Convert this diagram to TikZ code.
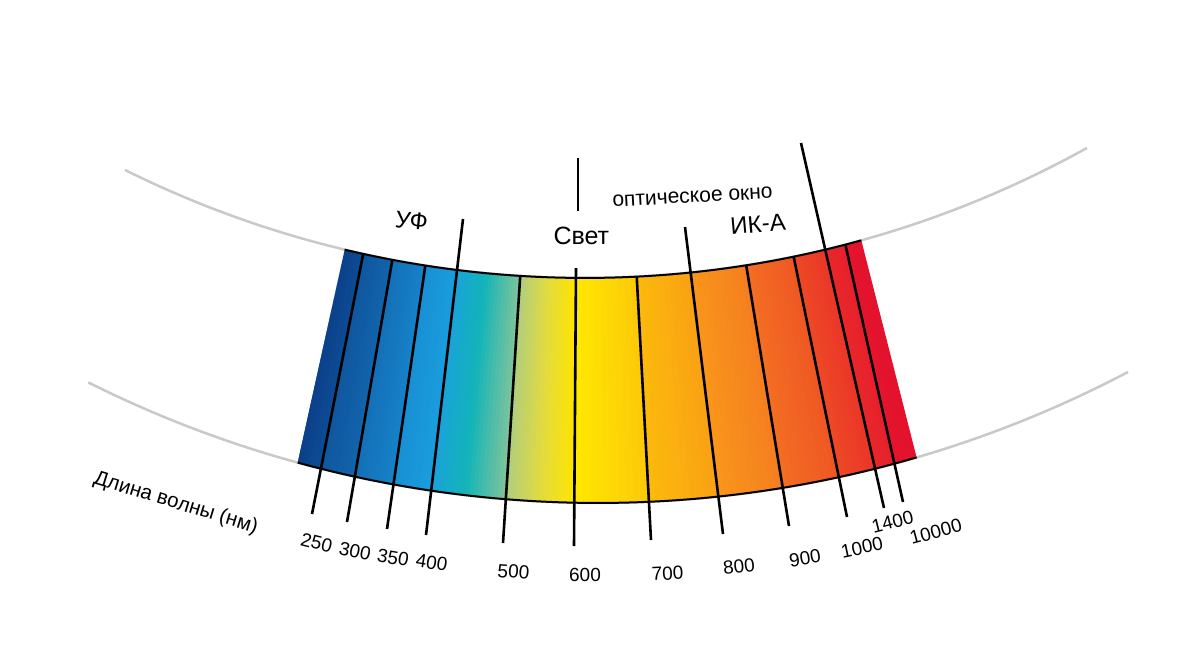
\documentclass[tikz,border=0pt]{standalone}
\usepackage{fontspec}
\setmainfont{Liberation Sans}
\usetikzlibrary{calc}
\definecolor{guidegray}{HTML}{C9C9C9}
\begin{document}
\begin{tikzpicture}[x=1pt,y=-1pt,
  tick/.style={line width=2.6pt, black},
  rim/.style={line width=2pt, black},
  guide/.style={line width=2.5pt, color=guidegray},
  num/.style={font=\fontsize{19}{22}\selectfont, inner sep=0pt},
  lbl/.style={font=\fontsize{24}{28}\selectfont, inner sep=0pt}]
\fill[white] (0,0) rectangle (1200,662);
\useasboundingbox (0,0) rectangle (1200,662);
% centres of the two rims
\coordinate (T) at (585,-756);
\coordinate (B) at (598,-635);
\coordinate (TL) at ($(T)+(103.44:1034)$);
\coordinate (TR) at ($(T)+(74.50:1034)$);
\coordinate (BL) at ($(B)+(105.30:1138)$);
\coordinate (BR) at ($(B)+(73.74:1138)$);
\coordinate (GT1) at ($(T)+(116.42:1034)$);
\coordinate (GB1) at ($(B)+(116.61:1138)$);
% grey guide arcs
\draw[guide] (GT1) arc[start angle=116.42, end angle=60.96, radius=1034];
\draw[guide] (GB1) arc[start angle=116.61, end angle=62.24, radius=1138];
% spectrum band
\begin{scope}
\clip (TL) arc[start angle=103.44,end angle=74.50,radius=1034] -- (BR)
      arc[start angle=73.74,end angle=105.30,radius=1138] -- cycle;
\foreach \sxa/\sba/\sxb/\sbb/\sca/\scb in {
  343.0/279.0/367.9/310.8/0A3D86/0D4C95,
  367.9/310.8/397.5/347.3/0F569E/1264AC,
  397.5/347.3/430.5/388.3/146FB8/1682C8,
  430.5/388.3/461.7/427.8/1890D4/1A9DDC,
  461.7/427.8/489.4/462.3/1AA2DA/12B4B8,
  489.4/462.3/523.2/504.5/12B4B8/80C49A,
  523.2/504.5/549.75/539.35/AFCD7E/E2DB40,
  549.75/539.35/576.3/574.2/E2DB40/FFE400,
  576.3/574.2/634.2/649.9/FFE800/FDC90A,
  634.2/649.9/685.4/721.3/FCBA0C/F9A114,
  685.4/721.3/740.4/788.0/F8961A/F57E20,
  740.4/788.0/788.2/847.6/F36E22/EF5724,
  788.2/847.6/820.8/886.1/ED4A25/EA3628,
  820.8/886.1/842.1/907.5/E8282A/E6202B,
  842.1/907.5/864.0/940.0/E4152D/E3102D}{
  \edef\tmpdef{\noexpand\definecolor{segA}{HTML}{\sca}\noexpand\definecolor{segB}{HTML}{\scb}}\tmpdef
  \foreach \k in {0,...,9}{
    \pgfmathsetmacro\pta{\sxa+(\sxb-\sxa)*\k/10}
    \pgfmathsetmacro\ptb{\sxa+(\sxb-\sxa)*(\k+1.3)/10}
    \pgfmathsetmacro\pba{\sba+(\sbb-\sba)*\k/10}
    \pgfmathsetmacro\pbb{\sba+(\sbb-\sba)*(\k+1.3)/10}
    \pgfmathtruncatemacro\pc{100-100*(\k+0.5)/10}
    \fill[segA!\pc!segB] (\pta,230) -- (\ptb,230) -- (\pbb,520) -- (\pba,520) -- cycle;
  }
}
\end{scope}
% tick lines that stop at the upper rim
\begin{scope}
\clip ($(T)+(130:1034)$) arc[start angle=130,end angle=50,radius=1034] -- (1250,700) -- (-100,700) -- cycle;
\coordinate (a250) at (367.9,230);   \coordinate (b250) at (312,514);
\coordinate (a300) at (397.5,230);   \coordinate (b300) at (347,522);
\coordinate (a350) at (430.5,230);   \coordinate (b350) at (387,529);
\coordinate (a500) at (523.2,230);   \coordinate (b500) at (503,543);
\coordinate (a700) at (634.2,230);   \coordinate (b700) at (651,540);
\coordinate (a900) at (740.4,230);   \coordinate (b900) at (789,526);
\coordinate (a1000) at (788.2,230);  \coordinate (b1000) at (847,517);
\coordinate (a10000) at (842.1,230); \coordinate (b10000) at (903,502);
\foreach \n in {250,300,350,500,700,900,1000,10000}{
  \draw[tick] (a\n) -- (b\n);
}
\end{scope}
% tick lines that rise above the band
\coordinate (a400) at (463,219);   \coordinate (b400) at (426,535);
\coordinate (a600) at (576,268);   \coordinate (b600) at (574,546);
\coordinate (a800) at (685,227);   \coordinate (b800) at (723,534);
\coordinate (a1400) at (801,143);  \coordinate (b1400) at (884,508);
\coordinate (s600a) at (578,158);  \coordinate (s600b) at (578,211);
\foreach \n in {400,600,800,1400}{
  \draw[tick] (a\n) -- (b\n);
}
\draw[tick] (s600a) -- (s600b);
% rims
\draw[rim] (TL) arc[start angle=103.44,end angle=74.50,radius=1034];
\draw[rim] (BL) arc[start angle=105.30,end angle=73.74,radius=1138];
% wavelength labels
\node[num, rotate=-14] (l250) at (316.7,542.5) {250};
\node[num, rotate=-12] (l300) at (355,551) {300};
\node[num, rotate=-10] (l350) at (393,557.5) {350};
\node[num, rotate=-9] (l400) at (431.7,562.5) {400};
\node[num, rotate=-4] (l500) at (513.5,571.7) {500};
\node[num] (l600) at (585,575) {600};
\node[num, rotate=3] (l700) at (667.5,573.3) {700};
\node[num, rotate=6] (l800) at (739,566.7) {800};
\node[num, rotate=9] (l900) at (805,558.3) {900};
\node[num, rotate=12] (l1000) at (862,547.5) {1000};
\node[num, rotate=14] (l1400) at (892.5,521.7) {1400};
\node[num, rotate=15] (l10000) at (935.8,531.7) {10000};
% region labels
\node[lbl, rotate=-6] (uv) at (411.7,220.8) {УФ};
\node[font=\fontsize{25}{30}\selectfont, inner sep=0pt] (vis) at (581.3,236) {Свет};
\node[font=\fontsize{21}{25}\selectfont, inner sep=0pt, rotate=3] (win) at (692.5,197) {оптическое окно};
\node[lbl, rotate=5] (ira) at (758,224) {ИК-А};
\node[font=\fontsize{20.5}{24}\selectfont, inner sep=0pt, rotate=-17] (axis) at (175.8,503.3) {Длина волны (нм)};
\end{tikzpicture}
\end{document}
